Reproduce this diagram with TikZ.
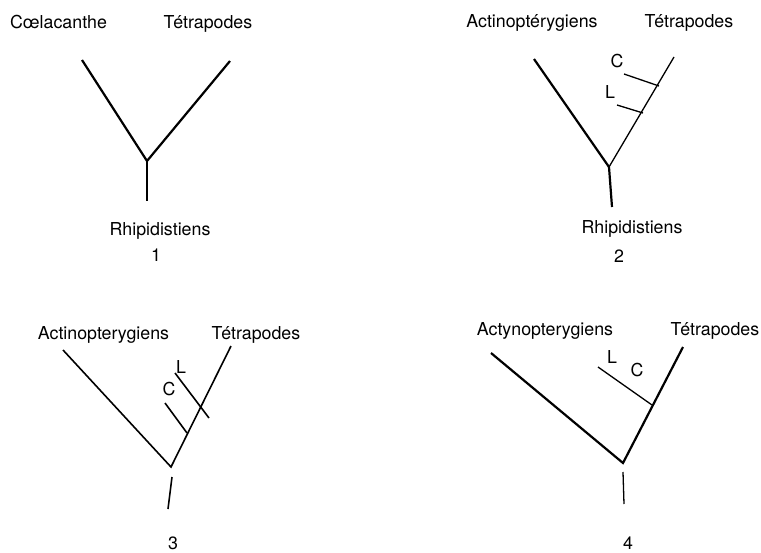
\documentclass[tikz,border=0pt]{standalone}
\usepackage{fontspec}
\setmainfont{TeX Gyre Heros}
\begin{document}
\begin{tikzpicture}[x=1pt,y=-1pt,
  lbl/.style={anchor=base,inner sep=0pt,font=\fontsize{17.8}{20}\selectfont},
  thick branch/.style={line width=2.2pt,line cap=butt},
  mid branch/.style={line width=1.6pt},
  thin branch/.style={line width=1.3pt},
  tick/.style={line width=1.3pt}]
\useasboundingbox (0,0) rectangle (761,552);
% ---------- Panel 1 ----------
\node[lbl] (p1a) at (58.5,28) {Cœlacanthe};
\node[lbl] (p1b) at (208,28) {Tétrapodes};
\node[lbl] (p1r) at (160,235) {Rhipidistiens};
\node[lbl] (p1n) at (156,261) {1};
\coordinate (p1l) at (82,60);
\coordinate (p1t) at (230,61);
\coordinate (p1j) at (147,161);
\coordinate (p1s) at (147,201);
\draw[thick branch] (p1l) -- (p1j) -- (p1t);
\draw[thick branch] (p1j) -- (p1s);
% ---------- Panel 2 ----------
\node[lbl] (p2a) at (532,27) {Actinoptérygiens};
\node[lbl] (p2b) at (689,27) {Tétrapodes};
\node[lbl] (p2r) at (632,233) {Rhipidistiens};
\node[lbl] (p2n) at (619,262) {2};
\node[lbl] (p2c) at (617,67) {C};
\node[lbl] (p2L) at (610,98) {L};
\coordinate (p2l) at (534,59);
\coordinate (p2t) at (674,57);
\coordinate (p2j) at (609,167);
\coordinate (p2s) at (612,207);
\coordinate (p2c1) at (624,74);
\coordinate (p2c2) at (659,86);
\coordinate (p2L1) at (617,105);
\coordinate (p2L2) at (643,113);
\draw[thick branch] (p2l) -- (p2j);
\draw[thin branch] (p2j) -- (p2t);
\draw[thick branch] (p2j) -- (p2s);
\draw[tick] (p2c1) -- (p2c2);
\draw[tick] (p2L1) -- (p2L2);
% ---------- Panel 3 ----------
\node[lbl] (p3a) at (103.5,339) {Actinopterygiens};
\node[lbl] (p3b) at (256,339) {Tétrapodes};
\node[lbl] (p3n) at (173,549) {3};
\node[lbl] (p3c) at (169,395) {C};
\node[lbl] (p3L) at (181,373) {L};
\coordinate (p3l) at (63,350);
\coordinate (p3t) at (231,346);
\coordinate (p3j) at (171,467);
\coordinate (p3s1) at (172,477);
\coordinate (p3s2) at (168,509);
\coordinate (p3c1) at (165,403);
\coordinate (p3c2) at (187,433);
\coordinate (p3L1) at (175,373);
\coordinate (p3L2) at (209,418);
\draw[mid branch] (p3l) -- (p3j) -- (p3t);
\draw[mid branch] (p3s1) -- (p3s2);
\draw[mid branch] (p3c1) -- (p3c2);
\draw[mid branch] (p3L1) -- (p3L2);
% ---------- Panel 4 ----------
\node[lbl] (p4a) at (545,335) {Actynopterygiens};
\node[lbl] (p4b) at (715,335) {Tétrapodes};
\node[lbl] (p4n) at (628,549) {4};
\node[lbl] (p4L) at (612,363) {L};
\node[lbl] (p4c) at (637,376) {C};
\coordinate (p4l) at (491,353);
\coordinate (p4t) at (683,347);
\coordinate (p4j) at (623,463);
\coordinate (p4s1) at (623,472);
\coordinate (p4s2) at (624,504);
\coordinate (p4k1) at (598,367);
\coordinate (p4k2) at (652,405);
\draw[thick branch] (p4l) -- (p4j) -- (p4t);
\draw[thin branch] (p4s1) -- (p4s2);
\draw[tick] (p4k1) -- (p4k2);
\end{tikzpicture}
\end{document}
